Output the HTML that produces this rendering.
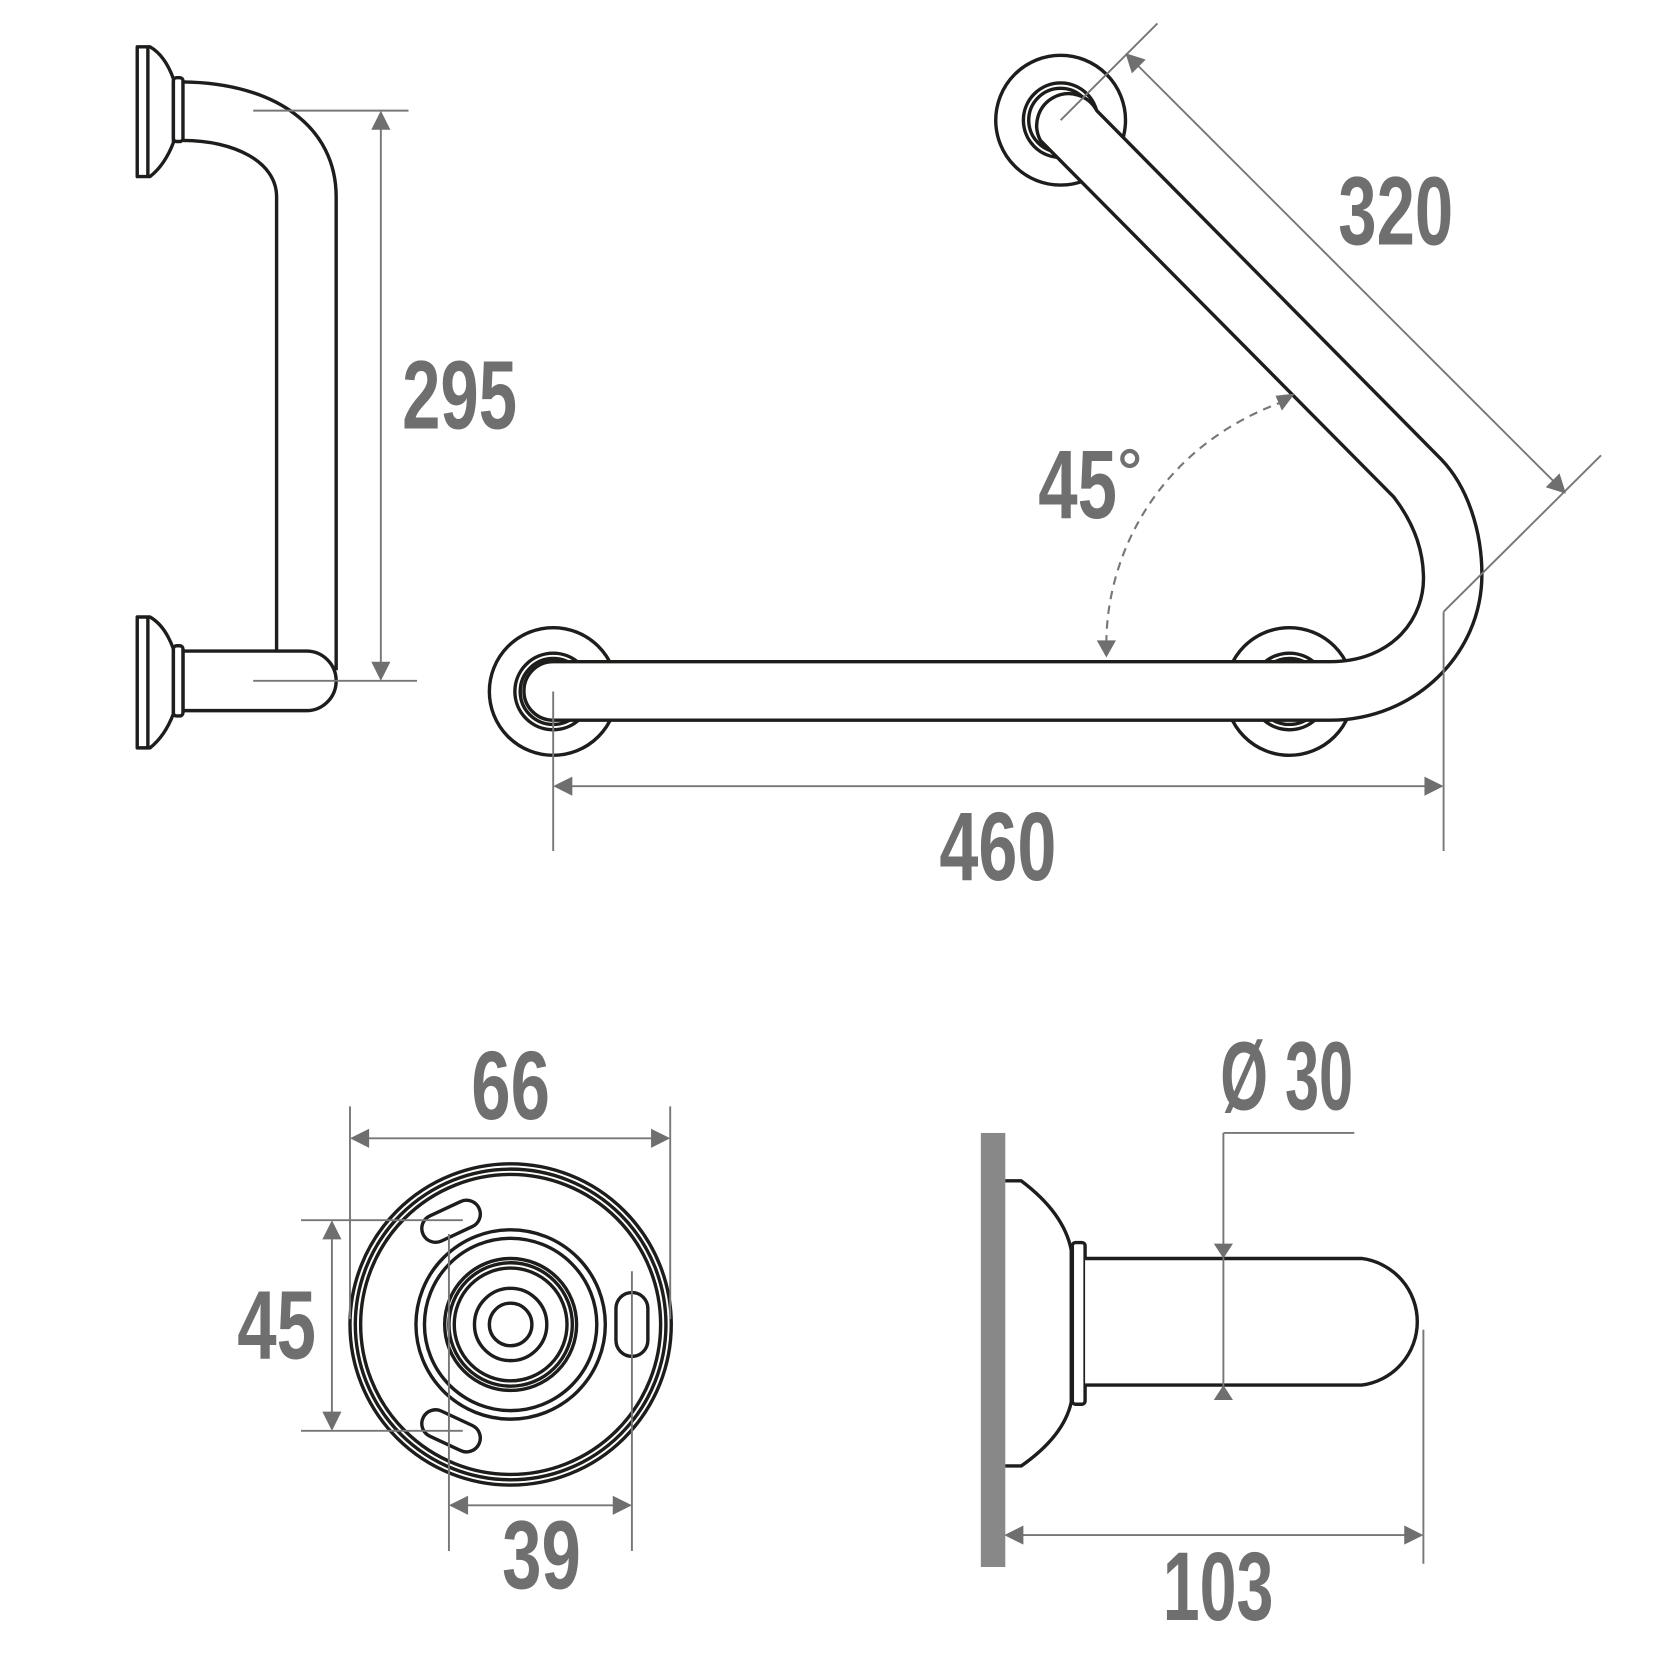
<!DOCTYPE html>
<html><head><meta charset="utf-8"><style>
html,body{margin:0;padding:0;background:#fff}
svg{display:block}
.k{fill:none;stroke:#1d1d1b;stroke-width:3.2;stroke-linejoin:round}
.w{fill:#fff;stroke:#1d1d1b;stroke-width:3.2;stroke-linejoin:round}
.d{fill:none;stroke:#777;stroke-width:1.8}
.a{fill:#6f6f6f}
.t{font-family:"Liberation Sans Narrow","Liberation Sans",sans-serif;font-weight:bold;fill:#6f6f6f;font-size:92px}
</style></head><body>
<svg width="1667" height="1667" viewBox="0 0 1567 1567" xmlns="http://www.w3.org/2000/svg">
<!-- LEFT SIDE VIEW -->
<g>
<path class="w" d="M129,44 H141 Q155,52 163,74 V134 Q155,155 141,166 H129 Z"/>
<line class="k" x1="139" y1="44" x2="139" y2="166"/>
<rect class="w" x="163" y="73" width="9" height="60" rx="3"/>
<path class="k" d="M172,77 C260,78 316,120 316,185 V630"/>
<path class="k" d="M172,132 C220,132 260,152 260,185 V612"/>
<path class="w" d="M172,612 H288 A28,28 0 0 1 288,668 H172 Z"/>
<path class="w" d="M129,580 H141 Q155,588 163,610 V671 Q155,692 141,703 H129 Z"/>
<line class="k" x1="139" y1="580" x2="139" y2="703"/>
<rect class="w" x="163" y="607" width="9" height="66" rx="3"/>
<line class="d" x1="238" y1="104" x2="384" y2="104"/>
<line class="d" x1="238" y1="640" x2="392" y2="640"/>
<line class="d" x1="358" y1="115" x2="358" y2="630"/>
<path class="a" d="M358,104 l-9,18 h18z M358,640 l-9,-18 h18z"/>
<text class="t" x="378" y="403" textLength="108" lengthAdjust="spacingAndGlyphs">295</text>
</g>
<!-- TOP RIGHT VIEW -->
<g>
<circle class="k" cx="520" cy="650" r="60"/>
<circle class="k" cx="520" cy="650" r="36"/>
<circle class="k" cx="520" cy="650" r="31"/>
<circle class="k" cx="1212" cy="650" r="60"/>
<circle class="k" cx="1212" cy="650" r="36"/>
<circle class="k" cx="1212" cy="650" r="31"/>
<circle class="k" cx="997" cy="113" r="61"/>
<circle class="k" cx="997" cy="113" r="35"/>
<circle class="k" cx="997" cy="113" r="30"/>
<path class="w" d="M520,622 H1250 C1310,622 1340,580 1338,540 C1337,505 1320,480 1310,467 L978,132 A22,22 0 0 1 1031,104 L1355,432 C1380,458 1393,500 1393,540 C1393,615 1330,677 1250,677 H520 A27.5,27.5 0 0 1 520,622 Z"/>
<line class="d" x1="520" y1="650" x2="520" y2="800"/>
<line class="d" x1="1357" y1="575" x2="1357" y2="800"/>
<line class="d" x1="530" y1="739" x2="1347" y2="739"/>
<path class="a" d="M520,739 l18,-9 v18z M1357,739 l-18,-9 v18z"/>
<text class="t" x="883" y="827" textLength="110" lengthAdjust="spacingAndGlyphs">460</text>
<line class="d" x1="997" y1="113" x2="1088" y2="22"/>
<line class="d" x1="1357" y1="575" x2="1505" y2="428"/>
<line class="d" x1="1066" y1="58" x2="1464" y2="456"/>
<path class="a" d="M1058,50 l19,6 l-13,13z M1472,464 l-19,-6 l13,-13z"/>
<text class="t" x="1258" y="230" textLength="108" lengthAdjust="spacingAndGlyphs">320</text>
<path d="M1040,605 C1040,520 1090,420 1205,378" fill="none" stroke="#777" stroke-width="2" stroke-dasharray="8,6"/>
<path class="a" d="M1040,618 l-9,-16 h18z M1217,370 l-12,16 l-6,-14z"/>
<text class="t" x="976" y="487" textLength="74" lengthAdjust="spacingAndGlyphs">45</text>
<circle cx="1062" cy="431" r="7" fill="none" stroke="#6f6f6f" stroke-width="4"/>
</g>
<!-- BOTTOM LEFT FRONT VIEW -->
<g>
<circle class="k" cx="480" cy="1245" r="151"/>
<circle class="k" cx="480" cy="1245" r="146"/>
<circle class="k" cx="480" cy="1245" r="141"/>
<circle class="k" cx="480" cy="1245" r="89"/>
<circle class="k" cx="480" cy="1245" r="81"/>
<circle class="k" cx="480" cy="1245" r="62"/>
<circle class="k" cx="480" cy="1245" r="58"/>
<circle class="k" cx="480" cy="1245" r="53"/>
<circle class="k" cx="480" cy="1245" r="34"/>
<circle class="k" cx="480" cy="1245" r="20"/>
<rect class="k" x="395" y="1135" width="58" height="26" rx="13" transform="rotate(-25 424 1148)"/>
<rect class="k" x="395" y="1332" width="58" height="26" rx="13" transform="rotate(25 424 1345)"/>
<rect class="k" x="579" y="1215" width="30" height="60" rx="15"/>
<line class="d" x1="329" y1="1040" x2="329" y2="1240"/>
<line class="d" x1="630" y1="1040" x2="630" y2="1240"/>
<line class="d" x1="340" y1="1070" x2="619" y2="1070"/>
<path class="a" d="M329,1070 l18,-9 v18z M630,1070 l-18,-9 v18z"/>
<text class="t" x="443" y="1052" textLength="74" lengthAdjust="spacingAndGlyphs">66</text>
<line class="d" x1="283" y1="1147" x2="435" y2="1147"/>
<line class="d" x1="283" y1="1345" x2="435" y2="1345"/>
<line class="d" x1="312" y1="1158" x2="312" y2="1334"/>
<path class="a" d="M312,1147 l-9,18 h18z M312,1345 l-9,-18 h18z"/>
<text class="t" x="223" y="1277" textLength="74" lengthAdjust="spacingAndGlyphs">45</text>
<line class="d" x1="422" y1="1160" x2="422" y2="1458"/>
<line class="d" x1="594" y1="1195" x2="594" y2="1458"/>
<line class="d" x1="433" y1="1415" x2="583" y2="1415"/>
<path class="a" d="M422,1415 l18,-9 v18z M594,1415 l-18,-9 v18z"/>
<text class="t" x="472" y="1493" textLength="74" lengthAdjust="spacingAndGlyphs">39</text>
</g>
<!-- BOTTOM RIGHT SIDE VIEW -->
<g>
<rect x="922" y="1065" width="23" height="408" fill="#888"/>
<path class="k" d="M945,1110 H960 Q1000,1140 1007,1175 V1318 Q1000,1350 960,1378 H945"/>
<rect class="w" x="1008" y="1168" width="12" height="152" rx="3"/>
<path class="w" d="M1020,1183 H1280 A60,60 0 0 1 1280,1302 H1020"/>
<line class="d" x1="1150" y1="1065" x2="1273" y2="1065"/>
<line class="d" x1="1150" y1="1065" x2="1150" y2="1313"/>
<path class="a" d="M1150,1183 l-9,-14 h18z M1150,1302 l-9,14 h18z"/>
<text class="t" x="1147" y="1043" textLength="125" lengthAdjust="spacingAndGlyphs">Ø 30</text>
<line class="d" x1="1338" y1="1250" x2="1338" y2="1470"/>
<line class="d" x1="955" y1="1443" x2="1327" y2="1443"/>
<path class="a" d="M944,1443 l18,-9 v18z M1338,1443 l-18,-9 v18z"/>
<text class="t" x="1093" y="1523" textLength="104" lengthAdjust="spacingAndGlyphs">103</text>
</g>
</svg>
</body></html>
